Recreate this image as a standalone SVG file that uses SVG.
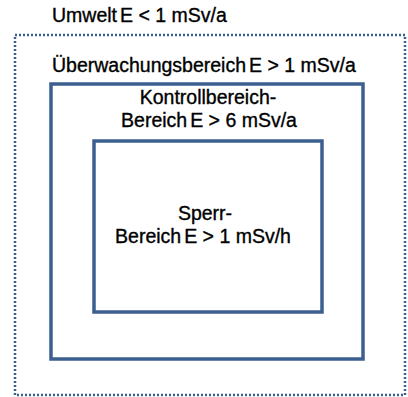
<svg xmlns="http://www.w3.org/2000/svg" width="408" height="397" viewBox="0 0 408 397">
<style>
.t{font-family:"Liberation Sans",Arial,sans-serif;font-size:19.5px;fill:#000;stroke:#000;stroke-width:0.35}
.c{text-anchor:middle}
.box{fill:none;stroke:#3B5F8F;stroke-width:3.5}
</style>
<rect width="408" height="397" fill="#fff"/>
<g id="umwelt">
<rect x="15" y="35" width="390" height="360" fill="none" stroke="#3B5F8F" stroke-width="2.5" stroke-dasharray="2 2"/>
<text class="t" x="52" y="22">Umwelt<tspan dx="3">E &lt; 1 mSv/a</tspan></text>
</g>
<g id="ueberwachung">
<text class="t" x="52" y="72">Überwachungsbereich<tspan dx="3">E &gt; 1 mSv/a</tspan></text>
</g>
<g id="kontroll">
<rect class="box" x="51" y="84" width="312" height="275"/>
<text class="t c" x="208" y="104">Kontrollbereich-</text>
<text class="t c" x="209" y="127">Bereich<tspan dx="3">E &gt; 6 mSv/a</tspan></text>
</g>
<g id="sperr">
<rect class="box" x="94" y="141" width="228" height="171"/>
<text class="t c" x="205" y="220">Sperr-</text>
<text class="t c" x="203" y="243">Bereich<tspan dx="3">E &gt; 1 mSv/h</tspan></text>
</g>
<g id="connectors"/>
</svg>
